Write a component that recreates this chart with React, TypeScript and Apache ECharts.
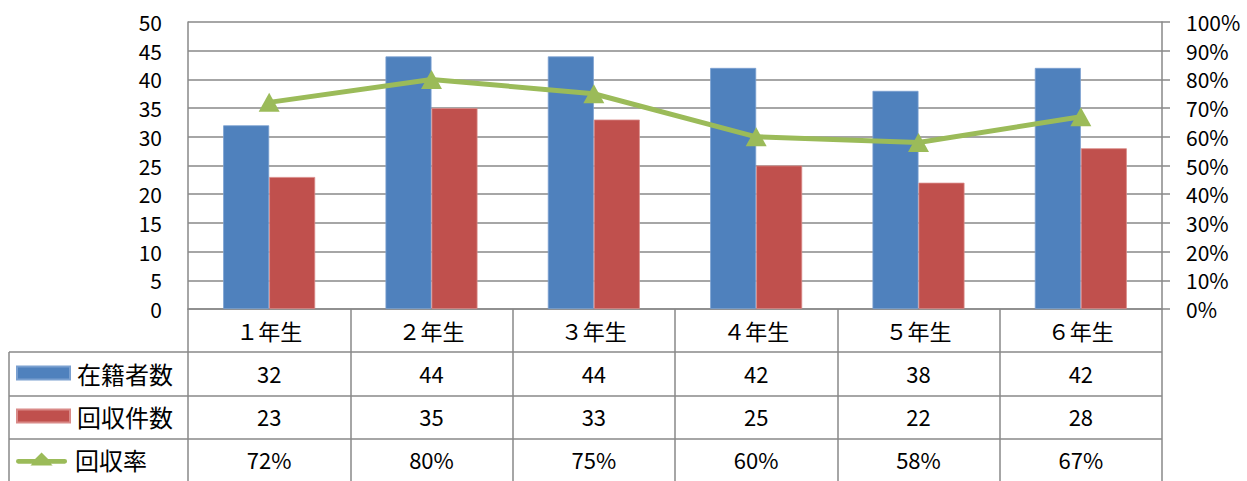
import React, { useEffect, useRef } from "react";
import * as echarts from "echarts";

const categories = ["１年生", "２年生", "３年生", "４年生", "５年生", "６年生"];
const enrolled = [32, 44, 44, 42, 38, 42];
const collected = [23, 35, 33, 25, 22, 28];
const rates = [72, 80, 75, 60, 58, 67];
const leftTicks = { min: 0, max: 50, interval: 5 };
const rightTicks = { min: 0, max: 100, interval: 10 };
const seriesNames = ["在籍者数", "回収件数", "回収率"];

const FONT = "'Noto Sans CJK JP', 'Noto Sans', sans-serif";
const GRID_COLOR = "#898989";
const BLUE = "#4F81BD";
const RED = "#C0504D";
const GREEN = "#9BBB59";
const LINE_ICON =
  "path://M2,7 L20,7 L27,0 L34,7 L52,7 A2.5,2.5 0 0 1 52,12 L37,12 L39,14 L15,14 L17,12 L2,12 A2.5,2.5 0 0 1 2,7 Z";

export default function App() {
  const ref = useRef<HTMLDivElement>(null);
  useEffect(() => {
    if (!ref.current) return;
    const chart = echarts.init(ref.current, null, { renderer: "svg" });
    const tableAxis = (offset: number, data: string[]) => ({
      type: "category",
      data,
      position: "bottom",
      offset,
      axisLine: { show: false },
      axisTick: { show: false },
      axisLabel: { color: "#000", fontSize: 22, fontFamily: FONT, margin: 0, verticalAlign: "middle" },
    });
    const hLine = (y: number, x1: number) => ({
      type: "line",
      shape: { x1, y1: y, x2: 1162, y2: y },
      style: { stroke: GRID_COLOR, lineWidth: 1.5 },
      silent: true,
    });
    const legendFor = (top: number, item: any) => ({
      orient: "vertical",
      left: 16,
      top,
      padding: 0,
      itemWidth: 53,
      itemHeight: 13,
      data: [item],
      textStyle: { color: "#000", fontSize: 24, lineHeight: 24, fontFamily: FONT, padding: [0, 0, 0, 2] },
      selectedMode: false,
    });
    chart.setOption({
      animation: false,
      textStyle: { fontFamily: FONT },
      grid: { left: 188, right: 85, top: 22, bottom: 172, containLabel: false },
      legend: [
        legendFor(361, { name: seriesNames[0], icon: "rect" }),
        legendFor(404, { name: seriesNames[1], icon: "rect" }),
        legendFor(447, { name: seriesNames[2], icon: LINE_ICON, itemStyle: { color: GREEN } }),
      ],
      xAxis: [
        {
          type: "category",
          data: categories,
          axisLine: { lineStyle: { color: GRID_COLOR, width: 1.5 } },
          axisTick: { show: true, length: 174, lineStyle: { color: GRID_COLOR, width: 1.5 } },
          axisLabel: { color: "#000", fontSize: 22, fontFamily: FONT, margin: 21, verticalAlign: "middle" },
        },
        tableAxis(64, enrolled.map(String)),
        tableAxis(107, collected.map(String)),
        tableAxis(150, rates.map((r) => r + "%")),
      ],
      yAxis: [
        {
          type: "value",
          ...leftTicks,
          axisLine: { show: true, lineStyle: { color: GRID_COLOR, width: 1.5 } },
          axisTick: { show: false },
          splitLine: { lineStyle: { color: GRID_COLOR, width: 1.5 } },
          axisLabel: { color: "#000", fontSize: 21, lineHeight: 22, fontFamily: FONT, margin: 26 },
        },
        {
          type: "value",
          ...rightTicks,
          position: "right",
          axisLine: { show: true, lineStyle: { color: GRID_COLOR, width: 1.5 } },
          axisTick: { show: true, length: 8, lineStyle: { color: GRID_COLOR, width: 1.5 } },
          splitLine: { show: false },
          axisLabel: { color: "#000", fontSize: 21, lineHeight: 22, fontFamily: FONT, margin: 24, formatter: "{value}%" },
        },
      ],
      graphic: [
        hLine(352, 9),
        hLine(396, 9),
        hLine(439, 9),
        hLine(482, 9),
        {
          type: "line",
          shape: { x1: 9, y1: 352, x2: 9, y2: 481 },
          style: { stroke: GRID_COLOR, lineWidth: 1.5 },
          silent: true,
        },
      ],
      series: [
        {
          name: seriesNames[0],
          type: "bar",
          data: enrolled,
          barWidth: 46,
          barGap: "0%",
          itemStyle: { color: BLUE, borderColor: "#7aa0d0", borderWidth: 0.8 },
        },
        {
          name: seriesNames[1],
          type: "bar",
          data: collected,
          barWidth: 46,
          barGap: "0%",
          itemStyle: { color: RED, borderColor: "#d98a88", borderWidth: 0.8 },
        },
        {
          name: seriesNames[2],
          type: "line",
          yAxisIndex: 1,
          data: rates,
          symbol: "triangle",
          symbolSize: [21, 19],
          lineStyle: { color: GREEN, width: 5 },
          itemStyle: { color: GREEN },
          z: 5,
        },
      ],
    });
    return () => chart.dispose();
  }, []);
  return <div ref={ref} style={{ width: 1247, height: 481, position: "absolute", left: 0, top: 0 }} />;
}
